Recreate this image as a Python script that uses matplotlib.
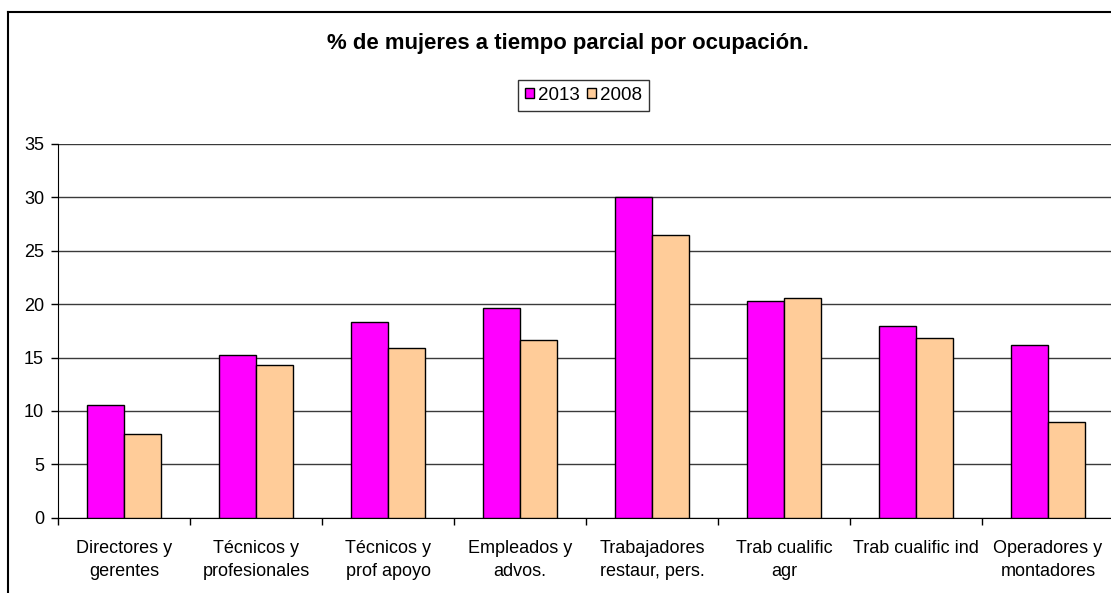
import matplotlib.pyplot as plt
import numpy as np
from matplotlib.lines import Line2D

# datos
ocupaciones = ['Directores y\ngerentes', 'Técnicos y\nprofesionales', 'Técnicos y\nprof apoyo',
               'Empleados y\nadvos.', 'Trabajadores\nrestaur, pers.', 'Trab cualific\nagr',
               'Trab cualific ind', 'Operadores y\nmontadores']
valores_2013 = [10.6, 15.25, 18.3, 19.6, 30.0, 20.3, 17.95, 16.15]
valores_2008 = [7.85, 14.3, 15.85, 16.65, 26.5, 20.55, 16.8, 9.0]
yticks = [0, 5, 10, 15, 20, 25, 30, 35]

plt.rcParams['font.family'] = ['Liberation Sans', 'DejaVu Sans']

W, H = 1111, 593
fig = plt.figure(figsize=(W / 100, H / 100), dpi=100)
fig.patch.set_facecolor('white')

# eje: izquierda 58px, abajo 517.7px, arriba 144px, derecha un poco fuera de la imagen
ax = fig.add_axes([58 / W, 1 - 517.7 / H, (1114 - 58) / W, (517.7 - 144) / H])

x = np.arange(len(ocupaciones))
ancho = 0.284
ax.bar(x - ancho / 2, valores_2013, ancho, color='#ff00ff', edgecolor='black', linewidth=1, label='2013', zorder=3)
ax.bar(x + ancho / 2, valores_2008, ancho, color='#ffcc99', edgecolor='black', linewidth=1, label='2008', zorder=3)

ax.set_xlim(-0.5, len(ocupaciones) - 0.5)
ax.set_ylim(0, 35)
ax.set_yticks(yticks)
ax.yaxis.grid(True, color='#3a3a3a', linewidth=1)
ax.set_axisbelow(True)

ax.set_xticks(x)
ax.set_xticklabels(ocupaciones, fontsize=13, linespacing=1.45, va='top')
ax.set_xticks(np.arange(len(ocupaciones)) - 0.5, minor=True)
ax.tick_params(axis='x', which='major', length=0, pad=16)
ax.tick_params(axis='x', which='minor', length=5, width=1, color='black', direction='out')
ax.tick_params(axis='y', labelsize=13, length=5, width=1, pad=5, direction='out')

for s in ['top', 'right']:
    ax.spines[s].set_visible(False)
ax.spines['left'].set_color('black')
ax.spines['bottom'].set_color('black')

fig.text(568 / W, 1 - 44 / H, '% de mujeres a tiempo parcial por ocupación.', ha='center', va='center',
         fontsize=15.9, fontweight='bold')

leg = fig.legend(loc='center', bbox_to_anchor=(583.5 / W, 1 - 95.5 / H), ncol=2, fontsize=13.5,
                 frameon=True, fancybox=False, edgecolor='black', handlelength=0.45, handleheight=0.45,
                 handletextpad=0.22, columnspacing=0.42, borderpad=0.36, borderaxespad=0)
leg.get_frame().set_linewidth(1)

# marco del grafico (solo se ven el borde izquierdo y el superior)
fig.add_artist(Line2D([8 / W, 8 / W], [0, 1 - 12 / H], color='black', linewidth=1.5))
fig.add_artist(Line2D([8 / W, 1], [1 - 12 / H, 1 - 12 / H], color='black', linewidth=1.5))

fig.savefig('out.png', dpi=100)
